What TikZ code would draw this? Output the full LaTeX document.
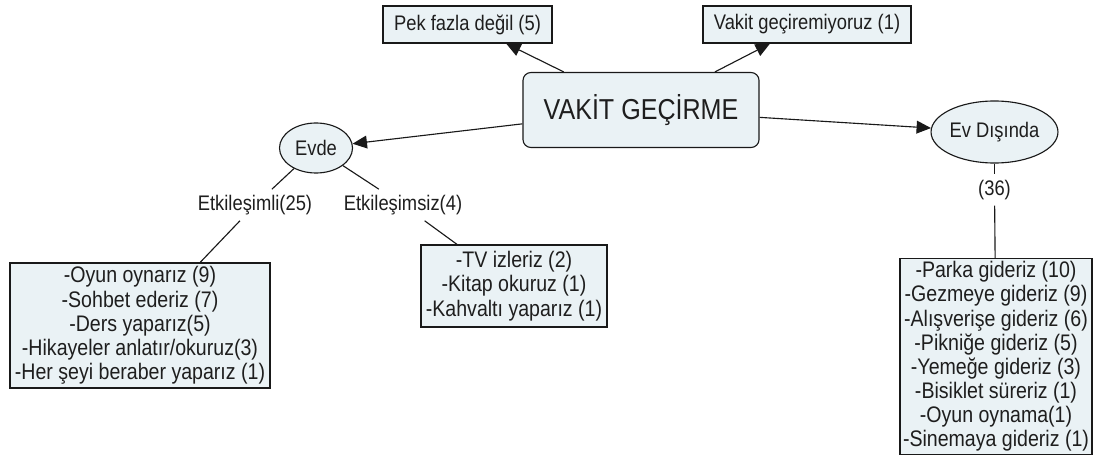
\documentclass[tikz,border=0pt]{standalone}
\usepackage{fontspec}
\setmainfont{Liberation Sans}[FakeStretch=0.87]
\usepackage{xcolor}
\definecolor{cmfill}{RGB}{234,242,245}
\definecolor{cmline}{RGB}{25,25,25}
\definecolor{cmtext}{RGB}{30,30,30}
\usetikzlibrary{arrows.meta,positioning,shapes.geometric}

\begin{document}
\begin{tikzpicture}[x=0.025cm, y=-0.025cm,
  conceptbox/.style={draw=cmline, line width=0.8pt, fill=cmfill, inner sep=2pt,
    align=center, text=cmtext, font=\fontsize{15}{17.2}\selectfont},
  listbox/.style={conceptbox, font=\fontsize{16}{17.2}\selectfont},
  ovalnode/.style={conceptbox, ellipse, inner sep=0pt},
  linklabel/.style={inner sep=4pt, text=cmtext, font=\fontsize{15}{17.2}\selectfont},
  linkarrow/.style={-{Triangle[length=3.6mm, width=3.2mm]}, line width=0.8pt, cmline},
  linkline/.style={line width=0.8pt, cmline}]

\useasboundingbox (0,0) rectangle (1096,459);

% main concept
\node[conceptbox, rounded corners=0.2cm, minimum width=5.9cm, minimum height=1.875cm,
  font=\fontsize{20.5}{24}\selectfont] (root) at (641,110) {VAKİT GEÇİRME};

\node[conceptbox, minimum width=4.225cm, minimum height=0.925cm] (pek) at (467.5,24.5) {Pek fazla değil (5)};
\node[conceptbox, minimum width=5.2cm, minimum height=0.925cm] (vakit) at (807,24.5) {Vakit geçiremiyoruz (1)};

\node[ovalnode, minimum width=1.825cm, minimum height=1.25cm] (evde) at (316,148) {Evde};
\node[ovalnode, minimum width=3.125cm, minimum height=1.55cm] (evdis) at (994.5,132) {Ev Dışında};

% link labels
\node[linklabel] (etk) at (255,205) {Etkileşimli(25)};
\node[linklabel] (etksiz) at (403,205) {Etkileşimsiz(4)};
\node[linklabel] (disi) at (994.5,190) {(36)};

% lists
\node[listbox, minimum width=6.5cm, minimum height=3.125cm] (etklist) at (140,325.5) {%
  -Oyun oynarız (9)\\ -Sohbet ederiz (7)\\ -Ders yaparız(5)\\
  -Hikayeler anlatır/okuruz(3)\\ -Her şeyi beraber yaparız (1)};
\node[listbox, minimum width=4.65cm, minimum height=2.05cm] (siklist) at (514,286) {%
  -TV izleriz (2)\\ -Kitap okuruz (1)\\ -Kahvaltı yaparız (1)};
\node[listbox, minimum width=4.8cm, minimum height=4.675cm] (dislist) at (996,356.5) {%
  -Parka gideriz (10)\\ -Gezmeye gideriz (9)\\ -Alışverişe gideriz (6)\\
  -Pikniğe gideriz (5)\\ -Yemeğe gideriz (3)\\ -Bisiklet süreriz (1)\\
  -Oyun oynama(1)\\ -Sinemaya gideriz (1)};

% arrows from the main concept
\draw[linkarrow] (root) -- (pek);
\draw[linkarrow] (root) -- (vakit);
\draw[linkarrow] (root) -- (evde);
\draw[linkarrow] (root) -- (evdis);

% plain links
\draw[linkline] (evde) -- (etk);
\draw[linkline] (etk) -- (etklist);
\draw[linkline] (evde) -- (etksiz);
\draw[linkline] (etksiz) -- (siklist);
\draw[linkline] (evdis) -- (disi);
\draw[linkline] (disi) -- (dislist);

\end{tikzpicture}
\end{document}
